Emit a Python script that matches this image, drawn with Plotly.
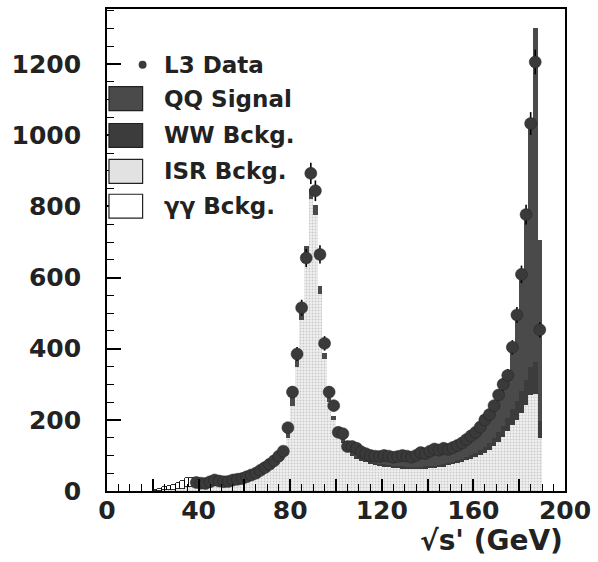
import plotly.graph_objects as go

# ---------------- data ----------------
mc_x = list(range(21, 191, 2))  # bin centres (2 GeV bins)

isr = [0, 1, 2, 3, 4, 5, 7, 10, 12,            # 21-37
       12, 12, 13, 14, 15, 16, 17, 18, 20, 22,  # 39-57
       25, 28, 32, 37, 44, 52, 62, 75, 90, 108, # 59-77
       150, 240, 350, 480, 655, 820, 775, 555, 370, 250,  # 79-97
       200, 165, 135, 110, 100, 92, 87, 83, 78, 75,       # 99-117
       72, 70, 68, 66, 65, 64, 63, 63, 63, 63,            # 119-137
       64, 65, 66, 68, 70, 72, 75, 78, 82, 86,            # 139-157
       90, 95, 100, 107, 116, 126, 138, 152, 168, 185,    # 159-177
       200, 220, 242, 270, 273, 148]                      # 179-189

gg = [3, 5, 8, 10, 14, 18, 22, 26, 24,
      20, 16, 12, 10, 8, 7, 6, 5, 4, 4,
      3, 3, 2, 2, 2, 1, 0, 0, 0, 0,
      0, 0, 0, 0, 0, 0, 0, 0, 0, 0,
      0, 0, 0, 0, 0, 0, 0, 0, 0, 0,
      0, 0, 0, 0, 0, 0, 0, 0, 0, 0,
      0, 0, 0, 0, 0, 0, 0, 0, 0, 0,
      0, 0, 0, 0, 0, 0, 0, 0, 0, 0,
      0, 0, 0, 0, 0, 0]

ww = [0, 0, 0, 0, 0, 0, 0, 0, 0,
      0, 0, 0, 0, 0, 0, 0, 0, 0, 0,
      0, 0, 0, 0, 0, 0, 0, 0, 0, 0,
      0, 0, 0, 0, 0, 0, 0, 0, 0, 0,
      0, 2, 3, 4, 4, 5, 5, 5, 5, 5,
      5, 5, 5, 5, 5, 5, 5, 5, 5, 5,
      5, 5, 5, 5, 5, 6, 7, 8, 9, 10,
      10, 12, 15, 18, 20, 24, 28, 32, 38, 45,
      52, 60, 70, 80, 90, 50]

qq = [0, 0, 0, 0, 0, 0, 0, 0, 0,
      3, 3, 3, 3, 3, 3, 3, 3, 3, 3,
      5, 5, 5, 5, 5, 5, 8, 8, 8, 8,
      15, 25, 30, 35, 33, 30, 28, 22, 18, 15,
      12, 10, 12, 12, 14, 16, 16, 16, 17, 18,
      20, 22, 22, 22, 24, 26, 26, 27, 28, 30,
      32, 34, 36, 38, 40, 42, 44, 46, 50, 54,
      58, 62, 68, 75, 85, 95, 105, 115, 125, 180,
      248, 340, 478, 690, 940, 509]

data_x = list(range(39, 191, 2))
data_y = [24, 22, 21, 26, 31, 28, 26, 27, 31, 33,          # 39-57
          35, 40, 45, 50, 58, 66, 75, 85, 98, 112,         # 59-77
          178, 278, 385, 515, 655, 893, 844, 665, 415, 278, # 79-97
          240, 165, 161, 125, 125, 120, 110, 105, 100, 98,  # 99-117
          97, 100, 98, 95, 97, 100, 98, 95, 100, 108,       # 119-137
          105, 112, 118, 115, 120, 117, 122, 128, 135, 145, # 139-157
          155, 165, 180, 200, 215, 240, 270, 300, 325, 404, # 159-177
          495, 609, 777, 1033, 1206, 453]                   # 179-189

x_tickvals = [0, 20, 40, 60, 80, 100, 120, 140, 160, 180, 200]
x_ticktext = ["0", "", "40", "", "80", "", "120", "", "160", "", "200"]
y_tickvals = [0, 200, 400, 600, 800, 1000, 1200]

legend_labels = ["L3 Data", "QQ Signal", "WW Bckg.", "ISR Bckg.", "γγ Bckg."]

# ---------------- figure ----------------
W, H = 598, 562
L, R, T, B = 107, 28, 7, 71
pw, ph = W - L - R, H - T - B

C_WW = "#3c3c3c"
C_QQ = "#4a4a4a"
C_DATA = "#3a3a3a"

fig = go.Figure()
fig.add_trace(go.Bar(x=mc_x, y=isr, width=2, name="ISR Bckg.",
                     marker=dict(color="white", line=dict(width=0),
                                 pattern=dict(shape=".", fgcolor="#a0a0a0", bgcolor="#f0f0f0",
                                              size=3, solidity=0.3))))
fig.add_trace(go.Bar(x=mc_x, y=gg, width=2, name="γγ Bckg.",
                     marker=dict(color="white", line=dict(width=0.8, color="black"))))
fig.add_trace(go.Bar(x=mc_x, y=ww, width=2, name="WW Bckg.",
                     marker=dict(color=C_WW, line=dict(width=0))))
fig.add_trace(go.Bar(x=mc_x, y=qq, width=2, name="QQ Signal",
                     marker=dict(color=C_QQ, line=dict(width=0))))
fig.add_trace(go.Scatter(x=data_x, y=data_y, mode="markers", name="L3 Data",
                         marker=dict(symbol="circle", size=12, color=C_DATA,
                                     line=dict(width=0.5, color="#222")),
                         error_y=dict(type="sqrt", color="black", thickness=1.6, width=0)))

tickfont = dict(family="DejaVu Sans", size=25, color="#222", weight="bold")

fig.update_layout(
    width=W, height=H,
    margin=dict(l=L, r=R, t=T, b=B),
    paper_bgcolor="white", plot_bgcolor="white",
    barmode="stack", bargap=0,
    showlegend=False,
    xaxis=dict(range=[0, 200], tickvals=x_tickvals, ticktext=x_ticktext,
               ticks="inside", ticklen=12, tickwidth=1.5, tickcolor="black",
               minor=dict(dtick=5, ticks="inside", ticklen=7, tickwidth=1.2, tickcolor="black"),
               showline=True, linecolor="black", linewidth=1.8, mirror=True,
               showgrid=False, zeroline=False, tickfont=tickfont, ticklabelstandoff=-4),
    yaxis=dict(range=[0, 1355], tickvals=y_tickvals,
               ticks="inside", ticklen=14, tickwidth=1.5, tickcolor="black",
               minor=dict(dtick=50, ticks="inside", ticklen=7, tickwidth=1.2, tickcolor="black"),
               showline=True, linecolor="black", linewidth=1.8, mirror=True,
               showgrid=False, zeroline=False, tickfont=tickfont, ticklabelstandoff=19),
)

def px(xp):
    return (xp - L) / pw

def py(yp):
    return (H - B - yp) / ph

# x-axis title
fig.add_annotation(text="√s' (GeV)", xref="paper", yref="paper", x=1.0, y=py(541),
                   xanchor="right", yanchor="middle", showarrow=False,
                   font=dict(family="DejaVu Sans", size=28, color="#222", weight="bold"))

# manual legend (large boxes like the original)
legend_fill = [None, C_QQ, C_WW, "#e2e2e2", "white"]
legend_y = [63, 97, 134, 170, 205]
for lab, fill, yc in zip(legend_labels, legend_fill, legend_y):
    if fill is None:
        fig.add_shape(type="circle", xref="paper", yref="paper",
                      x0=px(139), x1=px(147), y0=py(yc - 4), y1=py(yc + 4),
                      fillcolor=C_DATA, line=dict(width=0))
    else:
        fig.add_shape(type="rect", xref="paper", yref="paper",
                      x0=px(109), x1=px(143), y0=py(yc - 12), y1=py(yc + 12),
                      fillcolor=fill, line=dict(width=1.2, color="#222"))
    fig.add_annotation(text=lab, xref="paper", yref="paper", x=px(163), y=py(yc),
                       xanchor="left", yanchor="middle", showarrow=False,
                       font=dict(family="DejaVu Sans", size=23, color="#222", weight="bold"))

fig.write_html("out.html")
